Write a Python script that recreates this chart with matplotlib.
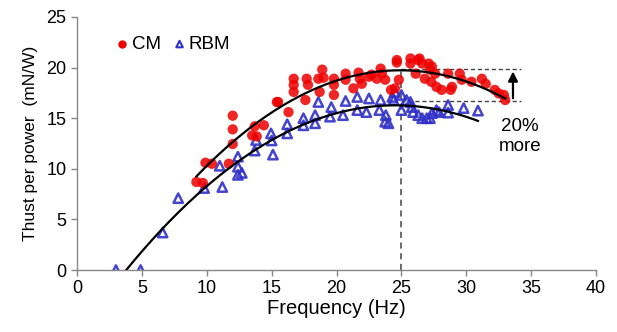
import numpy as np
import matplotlib
matplotlib.use("Agg")
from matplotlib import pyplot as plt

# CM measurements (frequency in Hz, thrust per power in mN/W)
cm_freq = [9.2, 9.7, 9.9, 10.4, 11.7, 12.0, 12.0, 12.0, 13.5, 13.7, 13.85, 14.4,
           15.4, 15.5, 16.3, 16.7, 16.7, 16.7, 17.6, 17.7, 17.8, 18.6, 18.7, 18.9,
           19.0, 19.8, 19.8, 19.8, 20.7, 20.7, 21.3, 21.7, 21.8, 21.95, 22.5, 22.7,
           23.1, 23.4, 23.5, 23.75, 24.2, 24.5, 24.65, 24.65, 24.8, 25.7, 25.7, 26.1,
           26.3, 26.4, 26.6, 26.8, 27.1, 27.2, 27.3, 27.35, 27.6, 27.7, 28.1, 28.6,
           28.8, 28.9, 29.5, 29.65, 30.4, 31.2, 31.5, 32.2, 32.5, 32.9, 33.0]
cm_tpp = [8.7, 8.6, 10.6, 10.5, 10.5, 12.45, 13.9, 15.25, 13.3, 14.2, 13.2, 14.3,
          16.6, 16.6, 15.6, 18.9, 18.3, 17.6, 16.8, 18.9, 18.3, 18.9, 17.6, 19.8,
          19.0, 18.9, 18.3, 17.3, 19.4, 18.8, 17.95, 19.5, 18.9, 18.4, 19.1, 19.3,
          18.9, 19.9, 19.4, 18.8, 17.8, 17.95, 20.75, 20.5, 18.8, 20.9, 20.4, 19.4,
          20.75, 20.9, 20.4, 18.9, 20.4, 19.8, 18.6, 20.1, 19.4, 18.1, 17.8, 19.4,
          17.8, 18.1, 19.4, 18.8, 18.6, 18.9, 18.4, 17.8, 17.45, 17.3, 16.8]

# RBM measurements
rbm_freq = [3.0, 4.9, 6.6, 7.8, 9.8, 11.2, 11.0, 12.4, 12.4, 12.4, 12.7, 13.8,
            13.7, 14.95, 15.0, 15.1, 16.2, 16.2, 17.45, 17.45, 18.35, 18.35, 18.6,
            19.6, 19.5, 20.5, 20.7, 21.6, 21.6, 22.3, 22.5, 23.3, 23.4, 23.75, 23.8,
            24.0, 24.3, 24.4, 24.5, 25.0, 25.0, 25.4, 25.7, 25.8, 25.9, 26.3, 26.6,
            26.95, 27.2, 27.35, 27.7, 27.9, 28.6, 28.6, 29.8, 30.9]
rbm_tpp = [0, 0, 3.7, 7.1, 8.1, 8.2, 10.3, 11.2, 10.2, 9.4, 9.6, 12.85,
           11.8, 13.5, 12.8, 11.4, 14.4, 13.5, 15.0, 14.3, 15.3, 14.5, 16.6,
           16.1, 15.15, 15.3, 16.7, 17.1, 15.8, 15.6, 16.95, 15.8, 16.8, 14.65, 15.3,
           14.5, 17.1, 16.8, 17.6, 17.3, 15.8, 16.8, 16.6, 16.1, 15.6, 15.3, 15.0,
           15.0, 15.0, 15.5, 15.8, 15.6, 16.3, 15.55, 16.0, 15.75]

# annotation levels
peak_freq = 25
cm_peak = 19.9
rbm_peak = 16.7

plt.rcParams["font.family"] = ["Liberation Sans", "DejaVu Sans"]

fig = plt.figure(figsize=(6.17, 3.32), dpi=100)
ax = fig.add_axes([0.1248, 0.1867, 0.966 - 0.1248, 0.9488 - 0.1867])

# dashed guide lines
ax.plot([peak_freq, peak_freq], [0, cm_peak], ls="--", c="#444444", lw=1.1, dashes=(4, 3), zorder=1)
ax.plot([peak_freq, 34.2], [cm_peak, cm_peak], ls="--", c="#444444", lw=1.0, dashes=(3, 2), zorder=1)
ax.plot([peak_freq, 34.2], [rbm_peak, rbm_peak], ls="--", c="#444444", lw=1.0, dashes=(3, 2), zorder=1)

ax.scatter(cm_freq, cm_tpp, s=55, color="#EE0000", alpha=0.85, edgecolors="none", zorder=3)
ax.scatter(rbm_freq, rbm_tpp, s=45, marker="^", facecolors="none", edgecolors="#3030C8",
           linewidths=1.8, alpha=0.9, zorder=2)

# second order trend lines
cm_fit = np.poly1d(np.polyfit(cm_freq, cm_tpp, 2))
xs = np.linspace(min(cm_freq), max(cm_freq), 200)
ax.plot(xs, cm_fit(xs), c="black", lw=1.6, zorder=4)

rbm_fit = np.poly1d(np.polyfit(rbm_freq, rbm_tpp, 2))
xs = np.linspace(min(rbm_freq), max(rbm_freq), 200)
ax.plot(xs, rbm_fit(xs), c="black", lw=1.6, zorder=4)

ax.annotate("", xy=(33.6, cm_peak), xytext=(33.6, rbm_peak),
            arrowprops=dict(arrowstyle="-|>", color="black", lw=1.6, mutation_scale=14))
ax.text(34.15, 13.2, "20%\nmore", ha="center", va="center", fontsize=13.5, linespacing=1.2)

# legend drawn as proxy handles
ax.scatter([], [], s=25, color="#EE0000", label="CM")
ax.scatter([], [], s=22, marker="^", facecolors="none", edgecolors="#3030C8", linewidths=1.5, label="RBM")
ax.legend(loc="upper left", bbox_to_anchor=(0.055, 0.97), ncol=2, frameon=False, fontsize=13.5,
          handlelength=0.6, handletextpad=0.2, columnspacing=0.7, borderaxespad=0.2)

ax.set_xlim(0, 40)
ax.set_ylim(0, 25)
ax.set_xticks(range(0, 41, 5))
ax.set_yticks(range(0, 26, 5))
ax.set_xlabel("Frequency (Hz)", fontsize=14.5, labelpad=1)
ax.set_ylabel("Thust per power  (mN/W)", fontsize=12.5, labelpad=6)
ax.tick_params(axis="both", labelsize=13, color="#888888", length=4, width=1)

for side in ["top", "right"]:
    ax.spines[side].set_visible(False)
for side in ["left", "bottom"]:
    ax.spines[side].set_color("#888888")
    ax.spines[side].set_linewidth(1.0)

fig.savefig("out.png", dpi=100)
